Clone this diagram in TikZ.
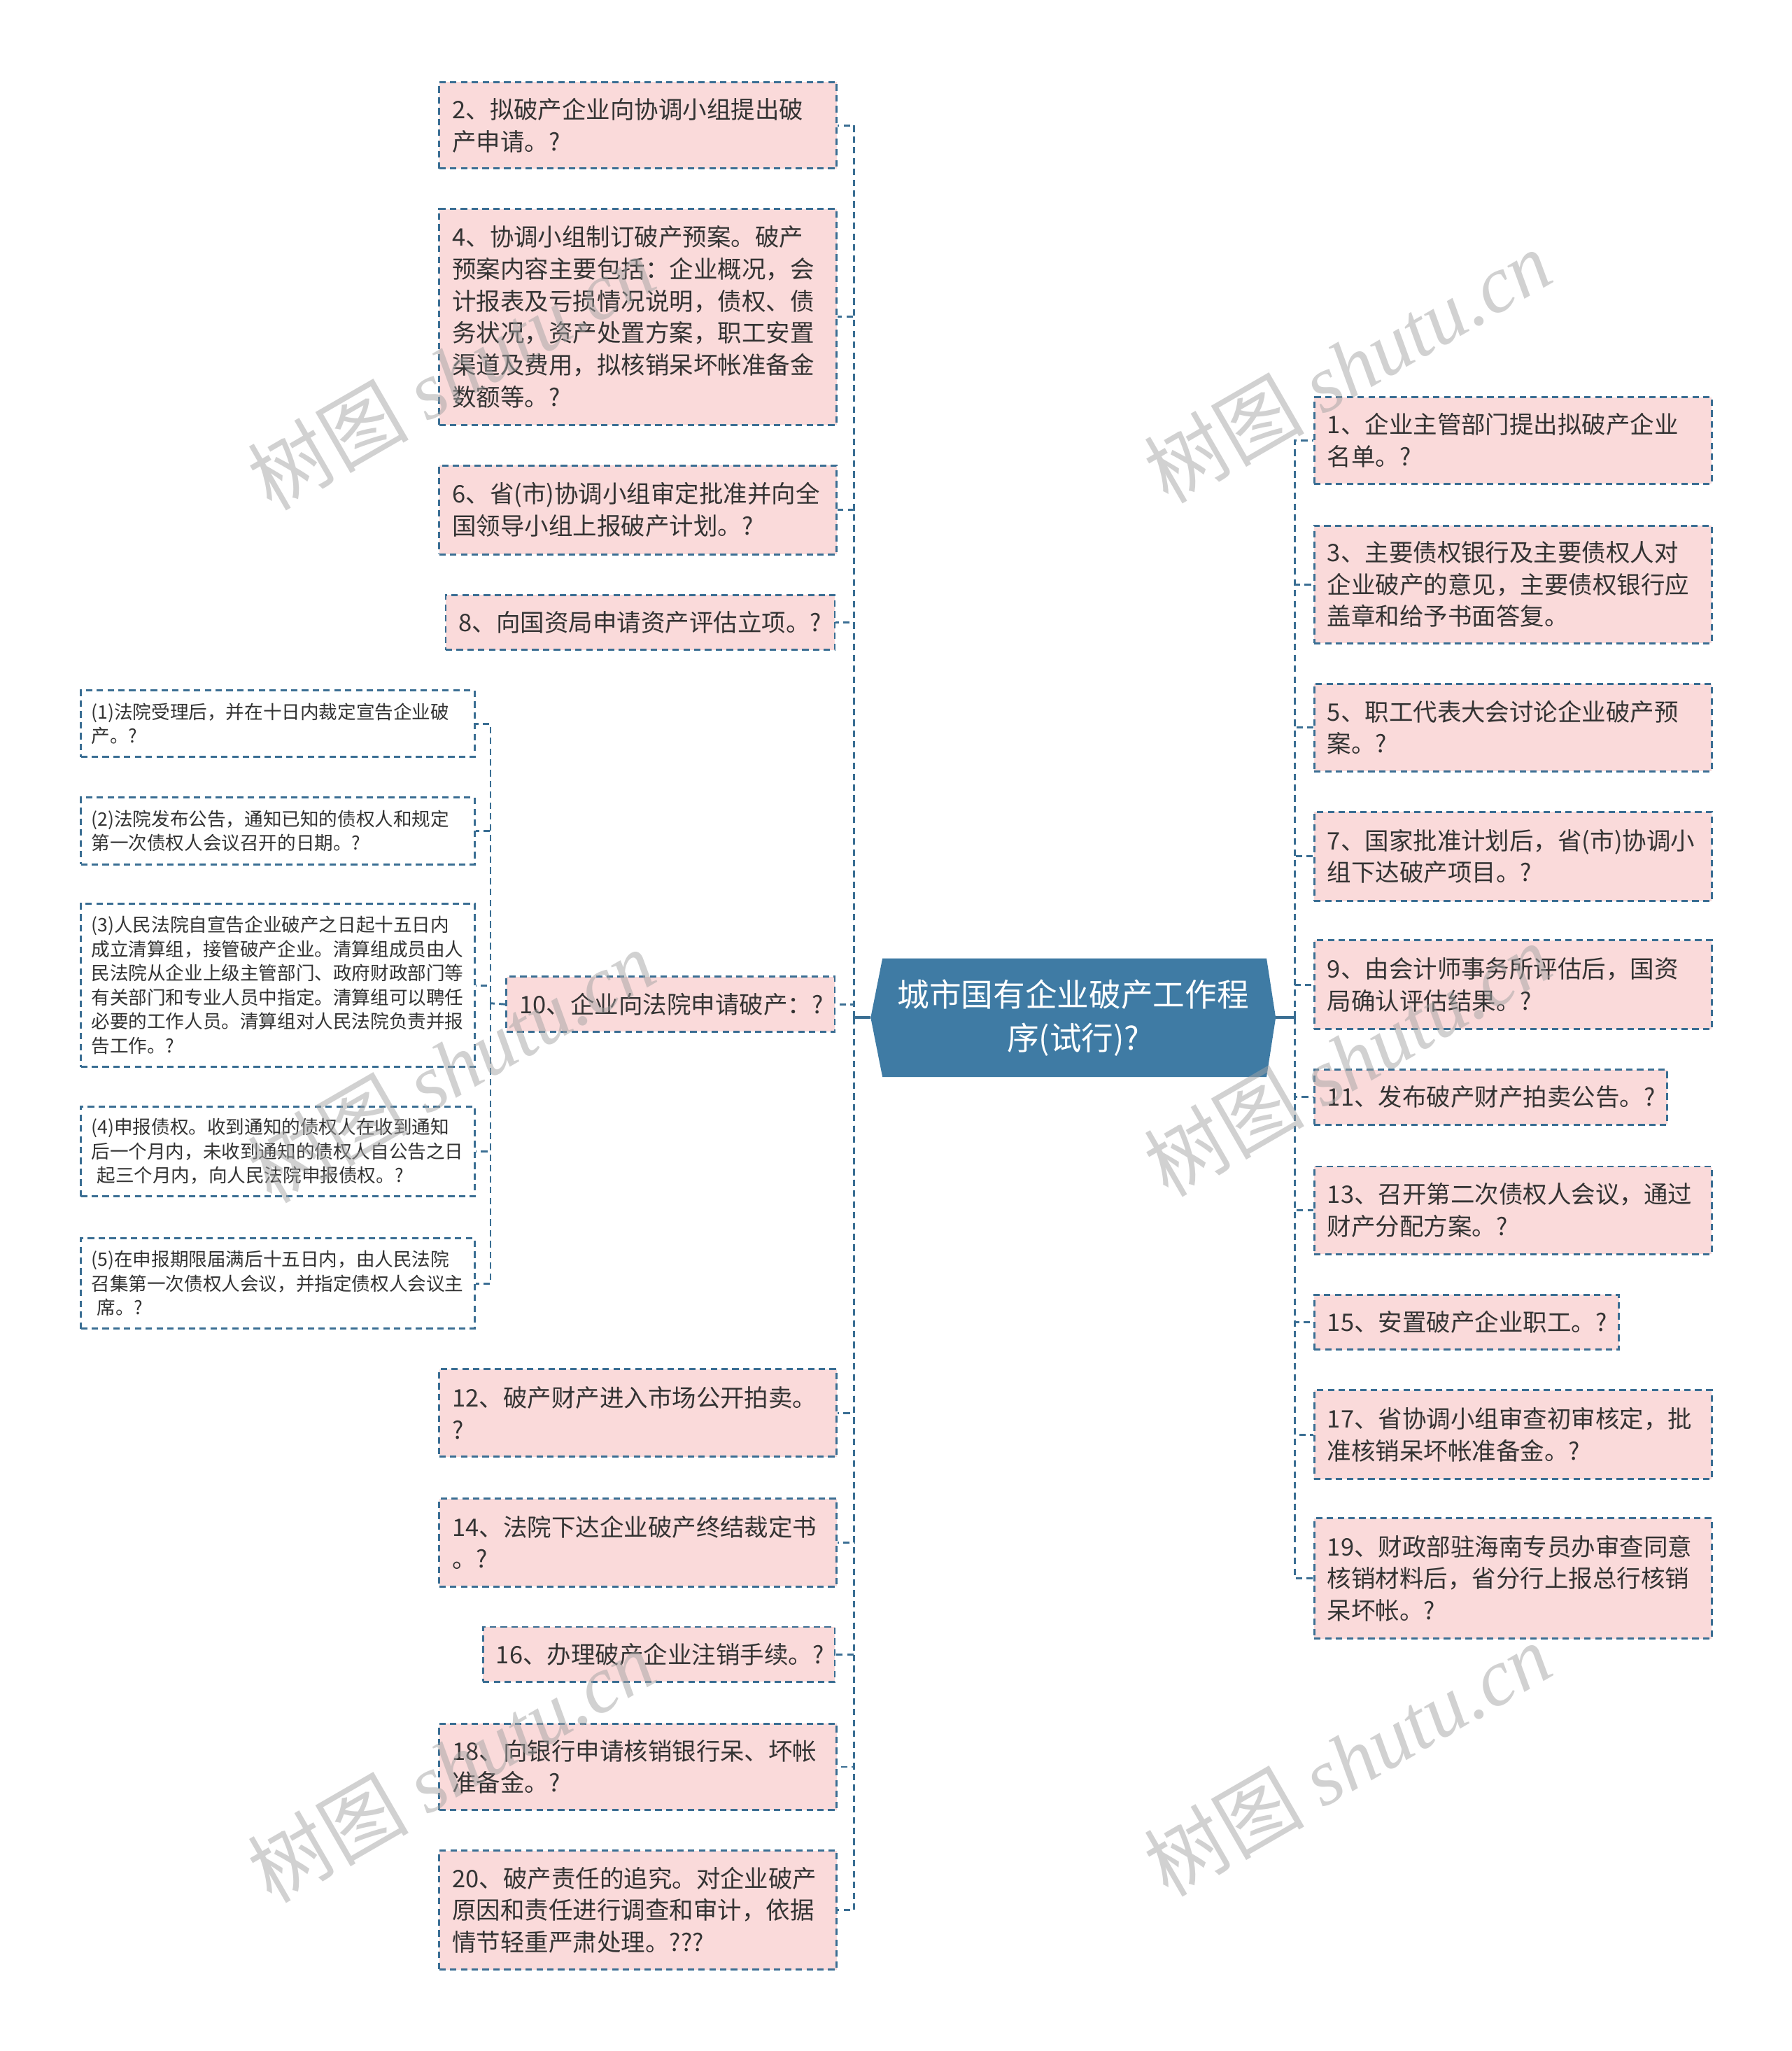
\documentclass[tikz,border=0pt]{standalone}
\usepackage{fontspec}
\setmainfont{Noto Sans CJK SC}
\newfontfamily\wmlat{Liberation Serif}
\usetikzlibrary{backgrounds}
\definecolor{lineblue}{HTML}{3A6E93}
\definecolor{pinkfill}{HTML}{FADADA}
\definecolor{txtc}{HTML}{333333}
\definecolor{cblue}{HTML}{3F7BA4}
\definecolor{wmgray}{HTML}{A4A4A4}
\tikzset{
  conn/.style={draw=lineblue, line width=0.9pt, dash pattern=on 2.8pt off 1.9pt},
  solidc/.style={draw=lineblue, line width=1.1pt},
  pbox/.style={draw=lineblue, fill=pinkfill, line width=0.9pt, dash pattern=on 2.8pt off 1.9pt, text=txtc, inner xsep=0.2cm, inner ysep=0pt, align=left, anchor=north west, font=\fontsize{10.5}{13.9}\selectfont},
  sbox/.style={pbox, fill=white, inner xsep=0.16cm, text width=5.70cm, font=\fontsize{8.1}{10.5}\selectfont},
  ctext/.style={text=white, align=center, minimum width=6.18cm, minimum height=1.8cm, inner sep=0pt, font=\fontsize{13.9}{18.8}\selectfont},
  wm/.style={text=wmgray, text opacity=0.5, rotate=30, font=\fontsize{35}{38}\selectfont, inner sep=0pt},
}
\begin{document}
\begin{tikzpicture}[x=0.02cm, y=-0.02cm]
\useasboundingbox (0,0) rectangle (1370,1568);
\begin{scope}[on background layer]
\fill[white] (0,0) rectangle (1370,1568);
\end{scope}

% center
\node[ctext] (c) at (820.5,778) {城市国有企业破产工作程\\序(试行)?};
\begin{scope}[on background layer]
\fill[cblue] (c.west) -- ([xshift=0.18cm]c.north west) -- ([xshift=-0.14cm]c.north east) -- (c.east) -- ([xshift=-0.14cm]c.south east) -- ([xshift=0.18cm]c.south west) -- cycle;
\end{scope}

% left column
\node[pbox, text width=5.68cm, minimum height=1.32cm] (b2) at (335,62) {2、拟破产企业向协调小组提出破\\产申请。?};
\node[pbox, text width=5.68cm, minimum height=3.30cm] (b4) at (335,159) {4、协调小组制订破产预案。破产\\预案内容主要包括：企业概况，会\\计报表及亏损情况说明，债权、债\\务状况，资产处置方案，职工安置\\渠道及费用，拟核销呆坏帐准备金\\数额等。?};
\node[pbox, text width=5.68cm, minimum height=1.36cm] (b6) at (335,355) {6、省(市)协调小组审定批准并向全\\国领导小组上报破产计划。?};
\node[pbox, anchor=north east, text width=5.55cm, minimum height=0.84cm] (b8) at (639,454) {8、向国资局申请资产评估立项。?};
\node[pbox, anchor=north east, text width=4.62cm, minimum height=0.84cm] (b10) at (639,746) {10、企业向法院申请破产：?};
\node[pbox, text width=5.68cm, minimum height=1.34cm] (b12) at (335,1046) {12、破产财产进入市场公开拍卖。\\?};
\node[pbox, text width=5.68cm, minimum height=1.34cm] (b14) at (335,1145) {14、法院下达企业破产终结裁定书\\。?};
\node[pbox, anchor=north east, text width=4.98cm, minimum height=0.84cm] (b16) at (639,1243) {16、办理破产企业注销手续。?};
\node[pbox, text width=5.68cm, minimum height=1.32cm] (b18) at (335,1317) {18、向银行申请核销银行呆、坏帐\\准备金。?};
\node[pbox, text width=5.68cm, minimum height=1.82cm] (b20) at (335,1414) {20、破产责任的追究。对企业破产\\原因和责任进行调查和审计，依据\\情节轻重严肃处理。???};

% sub boxes of 10
\node[sbox, minimum height=1.02cm] (s1) at (61,527) {(1)法院受理后，并在十日内裁定宣告企业破\\产。?};
\node[sbox, minimum height=1.02cm] (s2) at (61,609) {(2)法院发布公告，通知已知的债权人和规定\\第一次债权人会议召开的日期。?};
\node[sbox, minimum height=2.50cm] (s3) at (61,690) {(3)人民法院自宣告企业破产之日起十五日内\\成立清算组，接管破产企业。清算组成员由人\\民法院从企业上级主管部门、政府财政部门等\\有关部门和专业人员中指定。清算组可以聘任\\必要的工作人员。清算组对人民法院负责并报\\告工作。?};
\node[sbox, minimum height=1.38cm] (s4) at (61,845) {(4)申报债权。收到通知的债权人在收到通知\\后一个月内，未收到通知的债权人自公告之日\\\hspace*{0.3em}起三个月内，向人民法院申报债权。?};
\node[sbox, minimum height=1.38cm] (s5) at (61,946) {(5)在申报期限届满后十五日内，由人民法院\\召集第一次债权人会议，并指定债权人会议主\\\hspace*{0.3em}席。?};

% right column
\node[pbox, text width=5.68cm, minimum height=1.32cm] (r1) at (1004,303) {1、企业主管部门提出拟破产企业\\名单。?};
\node[pbox, text width=5.68cm, minimum height=1.80cm] (r3) at (1004,401) {3、主要债权银行及主要债权人对\\企业破产的意见，主要债权银行应\\盖章和给予书面答复。};
\node[pbox, text width=5.68cm, minimum height=1.34cm] (r5) at (1004,522) {5、职工代表大会讨论企业破产预\\案。?};
\node[pbox, text width=5.68cm, minimum height=1.36cm] (r7) at (1004,620) {7、国家批准计划后，省(市)协调小\\组下达破产项目。?};
\node[pbox, text width=5.68cm, minimum height=1.36cm] (r9) at (1004,718) {9、由会计师事务所评估后，国资\\局确认评估结果。?};
\node[pbox, text width=5.00cm, minimum height=0.84cm] (r11) at (1004,817) {11、发布破产财产拍卖公告。?};
\node[pbox, text width=5.68cm, minimum height=1.34cm] (r13) at (1004,891) {13、召开第二次债权人会议，通过\\财产分配方案。?};
\node[pbox, text width=4.26cm, minimum height=0.84cm] (r15) at (1004,989) {15、安置破产企业职工。?};
\node[pbox, text width=5.68cm, minimum height=1.36cm] (r17) at (1004,1062) {17、省协调小组审查初审核定，批\\准核销呆坏帐准备金。?};
\node[pbox, text width=5.68cm, minimum height=1.84cm] (r19) at (1004,1160) {19、财政部驻海南专员办审查同意\\核销材料后，省分行上报总行核销\\呆坏帐。?};

% spines
\coordinate (LS) at (653,778);
\coordinate (RS) at (990,778);
\coordinate (SS) at (375,767);

\draw[solidc] (c.west) -- (LS);
\draw[solidc] ([yshift=0.1cm]LS) -- ([yshift=-0.1cm]LS);
\draw[solidc] (c.east) -- (RS);
\draw[solidc] ([yshift=0.1cm]RS) -- ([yshift=-0.1cm]RS);

\foreach \n in {b2,b4,b6,b8,b10,b12,b14,b16,b18,b20}
  \draw[conn] (LS) |- (\n.east);
\foreach \n in {r1,r3,r5,r7,r9,r11,r13,r15,r17,r19}
  \draw[conn] (RS) |- (\n.west);
\draw[conn] (b10.west) -- (SS);
\foreach \n in {s1,s2,s3,s4,s5}
  \draw[conn] (SS) |- (\n.east);

% watermarks
\node[wm] at (345,285) {树图 {\wmlat\itshape shutu.cn}};
\node[wm] at (1030,280) {树图 {\wmlat\itshape shutu.cn}};
\node[wm] at (345,815) {树图 {\wmlat\itshape shutu.cn}};
\node[wm] at (1030,810) {树图 {\wmlat\itshape shutu.cn}};
\node[wm] at (345,1350) {树图 {\wmlat\itshape shutu.cn}};
\node[wm] at (1030,1345) {树图 {\wmlat\itshape shutu.cn}};
\end{tikzpicture}
\end{document}
